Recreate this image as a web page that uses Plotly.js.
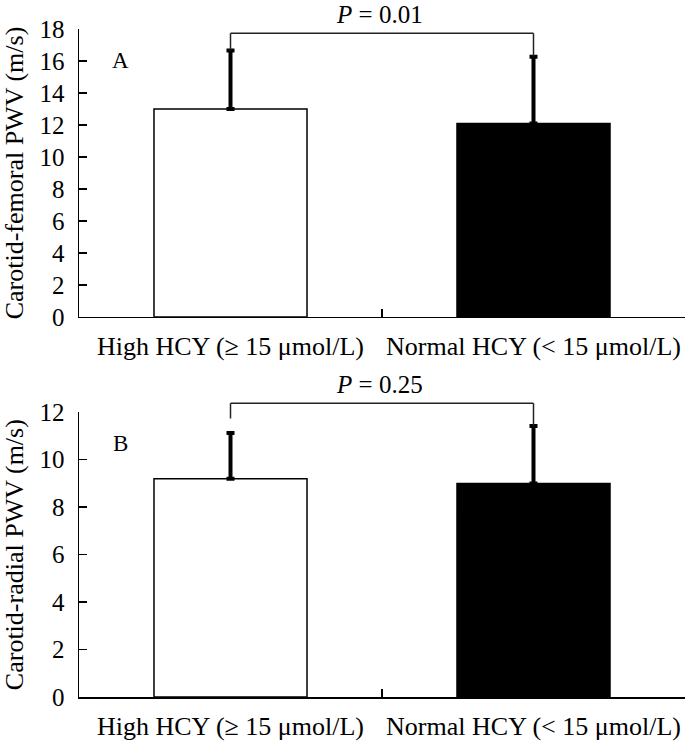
<!DOCTYPE html>
<html>
<head>
<meta charset="utf-8">
<script src="https://cdn.plot.ly/plotly-3.0.1.min.js"></script>
<style>html,body{margin:0;padding:0;background:#fff;}</style>
</head>
<body>
<div id="chart" style="width:699px;height:742px;"></div>
<script>
// ---- data ----
const categories = ["High HCY (≥ 15 μmol/L)", "Normal HCY (< 15 μmol/L)"];
const cfPWV = [13.0, 12.1];
const cfSD = [3.65, 4.17];
const crPWV = [9.2, 9.0];
const crSD = [1.93, 2.42];
const pLabels = ["0.01", "0.25"];
const panelLabels = ["A", "B"];
const bracketLevel = [17.73, 12.38];
const bracketLeftEnd = [16.65, 11.74];
const bracketRightEnd = [16.27, 11.42];
const yMax = [18, 12];
const barColors = ["white", "black"];

const FONT = "Liberation Serif";

function barTrace(vals, sd, xa, ya) {
  return {
    type: "bar", x: categories, y: vals, xaxis: xa, yaxis: ya,
    width: 0.505,
    marker: {color: barColors, line: {color: "black", width: 1.5}},
    error_y: {type: "data", symmetric: false, array: sd, arrayminus: [0, 0],
              thickness: 4, width: 4, color: "black"},
    hoverinfo: "skip", showlegend: false
  };
}

const data = [barTrace(cfPWV, cfSD, "x", "y"), barTrace(crPWV, crSD, "x2", "y2")];

function xAxis(anchor) {
  return {
    type: "category", range: [-0.5, 1.5], anchor: anchor,
    tickson: "boundaries", ticks: "inside", ticklen: 8, tickwidth: 1.5, tickcolor: "black",
    showline: true, linecolor: "black", linewidth: 1.5, showgrid: false, zeroline: false,
    ticklabelstandoff: 5, tickangle: 0,
    tickfont: {family: FONT, size: 26, color: "black"}, fixedrange: true
  };
}
function yAxis(anchor, max, domain, title) {
  return {
    range: [0, max], dtick: 2, anchor: anchor, domain: domain,
    ticks: "inside", ticklen: 8, tickwidth: 1.5, tickcolor: "black",
    showline: true, linecolor: "black", linewidth: 1.5, showgrid: false, zeroline: false,
    ticklabelstandoff: 8,
    tickfont: {family: FONT, size: 25, color: "black"},
    title: {text: title, font: {family: FONT, size: 26, color: "black"}},
    fixedrange: true
  };
}

const shapes = [];
const annotations = [];
[["x", "y"], ["x2", "y2"]].forEach(([xa, ya], i) => {
  const yd = ya + " domain";
  const m = yMax[i];
  const ln = {color: "#222", width: 1.5};
  shapes.push({type: "line", xref: xa, yref: yd, x0: 0, x1: 0, y0: bracketLeftEnd[i] / m, y1: bracketLevel[i] / m, line: ln});
  shapes.push({type: "line", xref: xa, yref: yd, x0: 0, x1: 1, y0: bracketLevel[i] / m, y1: bracketLevel[i] / m, line: ln});
  shapes.push({type: "line", xref: xa, yref: yd, x0: 1, x1: 1, y0: bracketLevel[i] / m, y1: bracketRightEnd[i] / m, line: ln});
  annotations.push({xref: xa, yref: yd, x: 0.5, y: bracketLevel[i] / m, yanchor: "middle", yshift: 19, xshift: -3,
    text: "<i>P</i> = " + pLabels[i], showarrow: false, font: {family: FONT, size: 25, color: "black"}});
  annotations.push({xref: xa + " domain", yref: yd, x: 0.068, y: 0.89, xanchor: "center", yanchor: "middle",
    text: panelLabels[i], showarrow: false, font: {family: FONT, size: 23, color: "black"}});
});

const layout = {
  width: 699, height: 742,
  margin: {l: 79, r: 14, t: 29, b: 45},
  paper_bgcolor: "white", plot_bgcolor: "white",
  xaxis: xAxis("y"),
  yaxis: yAxis("x", yMax[0], [0.5689, 1], "Carotid-femoral PWV (m/s)"),
  xaxis2: xAxis("y2"),
  yaxis2: yAxis("x2", yMax[1], [0, 0.4262], "Carotid-radial PWV (m/s)"),
  shapes: shapes, annotations: annotations,
  showlegend: false
};

Plotly.newPlot("chart", data, layout, {displayModeBar: false, staticPlot: true});
</script>
</body>
</html>
